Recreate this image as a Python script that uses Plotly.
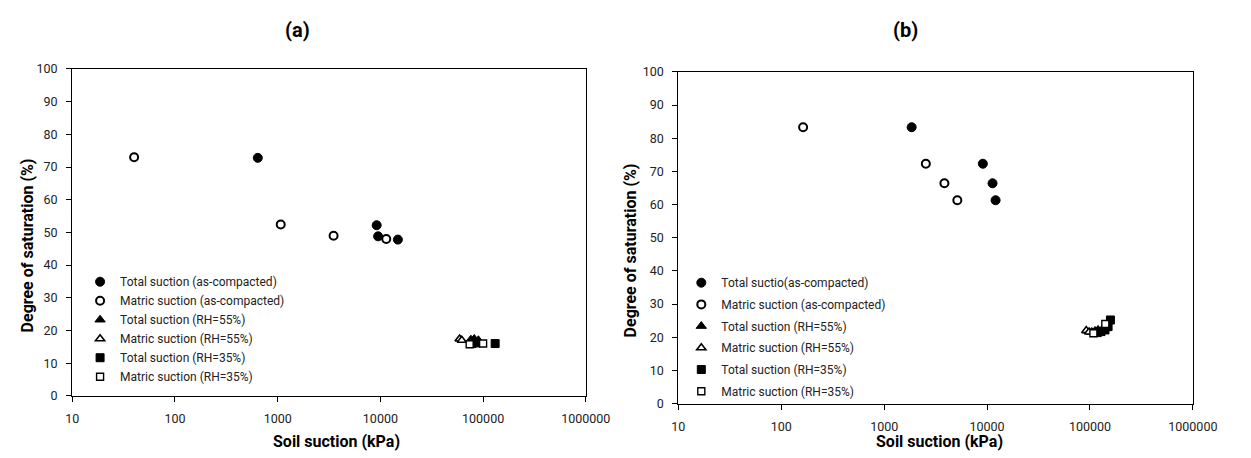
import plotly.graph_objects as go

W, H = 1251, 458

# ---------------- data: panel (a) ----------------
a_ts_ac_x = [640, 9200, 9500, 14800]
a_ts_ac_y = [72.8, 52.2, 48.8, 47.8]
a_ms_ac_x = [40, 1070, 3500, 11400]
a_ms_ac_y = [73.0, 52.4, 49.0, 48.0]
a_ts55_x = [76000, 82000, 90000]
a_ts55_y = [17.2, 17.4, 17.0]
a_ms55_x = [59000, 62000]
a_ms55_y = [17.4, 17.0]
a_ts35_x = [78000, 86000, 131000]
a_ts35_y = [16.0, 16.2, 16.0]
a_ms35_x = [74000, 100000]
a_ms35_y = [15.8, 16.0]

# ---------------- data: panel (b) ----------------
b_ts_ac_x = [1850, 9100, 11300, 12100]
b_ts_ac_y = [83.3, 72.3, 66.4, 61.3]
b_ms_ac_x = [163, 2540, 3850, 5140]
b_ms_ac_y = [83.3, 72.3, 66.4, 61.3]
b_ts55_x = [104000, 112000, 120000]
b_ts55_y = [21.6, 21.9, 22.2]
b_ms55_x = [92000, 98000]
b_ms55_y = [22.0, 21.6]
b_ts35_x = [118000, 128000, 140000, 150000, 158000]
b_ts35_y = [21.4, 21.7, 22.2, 23.2, 25.2]
b_ms35_x = [108000, 141000]
b_ms35_y = [21.2, 24.0]

names_a = ["Total suction (as-compacted)", "Matric suction (as-compacted)",
           "Total suction (RH=55%)", "Matric suction (RH=55%)",
           "Total suction (RH=35%)", "Matric suction (RH=35%)"]
names_b = ["Total suctio(as-compacted)", "Matric suction (as-compacted)",
           "Total suction (RH=55%)", "Matric suction (RH=55%)",
           "Total suction (RH=35%)", "Matric suction (RH=35%)"]

x_tickvals = [10, 100, 1000, 10000, 100000, 1000000]
x_ticktext = ["10", "100", "1000", "10000", "100000", "1000000"]
y_tickvals = [0, 10, 20, 30, 40, 50, 60, 70, 80, 90, 100]

FONT = "Roboto"

def px(x):
    return x / W

def py(y):
    return 1 - y / H

styles = [
    dict(symbol="circle", size=9, color="black", line=dict(color="black", width=1)),
    dict(symbol="circle", size=8, color="white", line=dict(color="black", width=2)),
    dict(symbol="triangle-up", size=9, color="black", line=dict(color="black", width=1)),
    dict(symbol="triangle-up", size=8, color="white", line=dict(color="black", width=1.6)),
    dict(symbol="square", size=8, color="black", line=dict(color="black", width=1)),
    dict(symbol="square", size=7, color="white", line=dict(color="black", width=1.4)),
]

fig = go.Figure()

series_a = [(a_ts_ac_x, a_ts_ac_y), (a_ms_ac_x, a_ms_ac_y), (a_ts55_x, a_ts55_y),
            (a_ms55_x, a_ms55_y), (a_ts35_x, a_ts35_y), (a_ms35_x, a_ms35_y)]
series_b = [(b_ts_ac_x, b_ts_ac_y), (b_ms_ac_x, b_ms_ac_y), (b_ts55_x, b_ts55_y),
            (b_ms55_x, b_ms55_y), (b_ts35_x, b_ts35_y), (b_ms35_x, b_ms35_y)]

for i, ((xs, ys), nm) in enumerate(zip(series_a, names_a)):
    fig.add_trace(go.Scatter(x=xs, y=ys, mode="markers", name=nm, marker=styles[i],
                             xaxis="x", yaxis="y", legend="legend",
                             legendgroup="a%d" % i))
for i, ((xs, ys), nm) in enumerate(zip(series_b, names_b)):
    fig.add_trace(go.Scatter(x=xs, y=ys, mode="markers", name=nm, marker=styles[i],
                             xaxis="x2", yaxis="y2", legend="legend2",
                             legendgroup="b%d" % i))

axis_common = dict(showgrid=False, zeroline=False, showline=True, linecolor="black",
                   linewidth=1.3, mirror=True, ticks="outside", ticklen=5,
                   tickcolor="black", tickwidth=1,
                   tickfont=dict(family=FONT, size=12.5, color="#222"))

xa = dict(axis_common, type="log", range=[1, 6], tickvals=x_tickvals,
          ticktext=x_ticktext, ticklabelstandoff=6)
ya = dict(axis_common, range=[0, 100], tickvals=y_tickvals, ticklabelstandoff=6)

fig.update_layout(
    width=W, height=H,
    margin=dict(l=0, r=0, t=0, b=0),
    paper_bgcolor="white", plot_bgcolor="white",
    font=dict(family=FONT, color="black"),
    xaxis=dict(xa, domain=[px(67), px(594)], anchor="y"),
    yaxis=dict(ya, domain=[py(401), py(63)], anchor="x"),
    xaxis2=dict(xa, domain=[px(689), px(1217)], anchor="y2"),
    yaxis2=dict(ya, domain=[py(409), py(66)], anchor="x2"),
    legend=dict(x=px(75), y=py(268), xanchor="left", yanchor="top",
                bgcolor="rgba(0,0,0,0)", borderwidth=0, tracegroupgap=0,
                font=dict(family=FONT, size=12, color="#222")),
    legend2=dict(x=px(692), y=py(269), xanchor="left", yanchor="top",
                 bgcolor="rgba(0,0,0,0)", borderwidth=0, tracegroupgap=2.7,
                 font=dict(family=FONT, size=12, color="#222")),
    showlegend=True,
)

annotations = [
    dict(text="<b>(a)</b>", x=px(298), y=py(23), font=dict(size=20)),
    dict(text="<b>(b)</b>", x=px(922), y=py(23), font=dict(size=20)),
    dict(text="<b>Soil suction (kPa)</b>", x=px(338), y=py(448), font=dict(size=16)),
    dict(text="<b>Soil suction (kPa)</b>", x=px(957), y=py(448), font=dict(size=16)),
    dict(text="<b>Degree of saturation (%)</b>", x=px(22), y=py(245), font=dict(size=16), textangle=-90),
    dict(text="<b>Degree of saturation (%)</b>", x=px(640), y=py(251), font=dict(size=16), textangle=-90),
]
for an in annotations:
    an.update(xref="paper", yref="paper", showarrow=False, xanchor="center", yanchor="middle")
    an["font"] = dict(an["font"], family=FONT, color="black")
fig.update_layout(annotations=annotations)

fig.write_html("out.html")
